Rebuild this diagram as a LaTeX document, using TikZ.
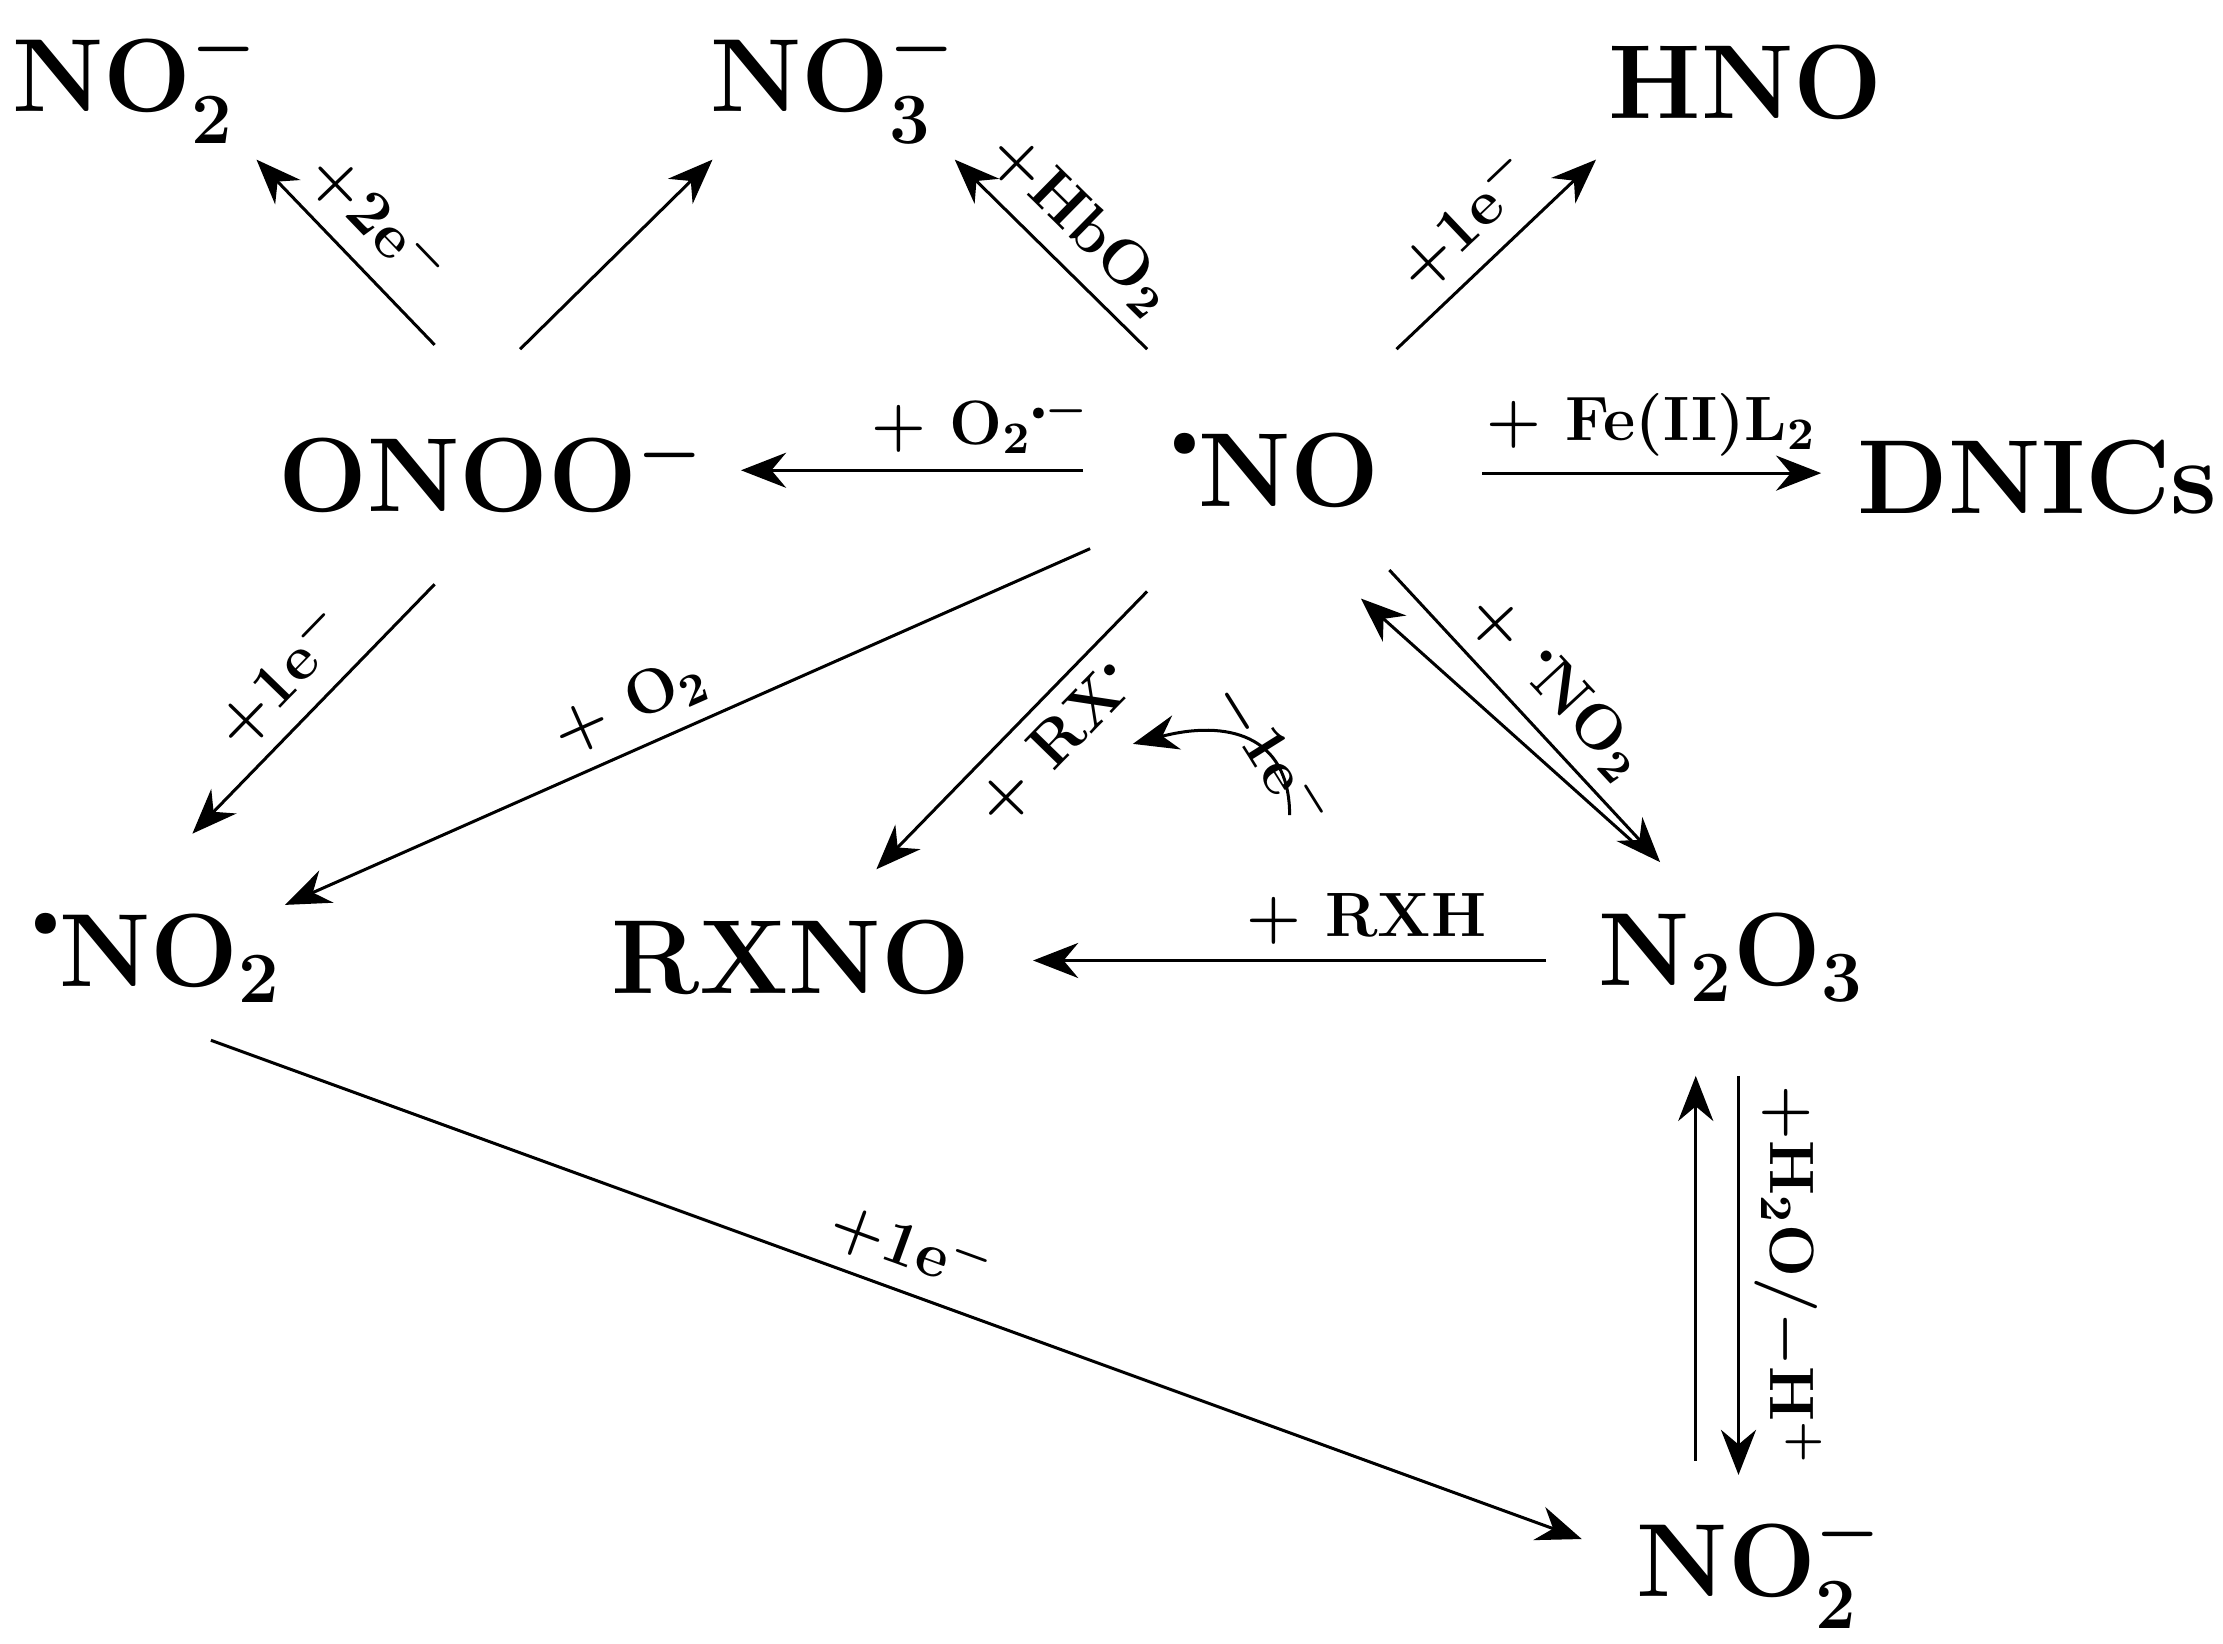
\documentclass[tikz,border=0pt]{standalone}
\usepackage{amsmath}
\usetikzlibrary{arrows.meta}
\newcommand{\rdot}{\raisebox{1.1ex}{\scalebox{0.45}{$\bullet$}}}
\newcommand{\ldot}{\raisebox{0.9ex}{\scalebox{0.4}{$\bullet$}}}

\begin{document}
\begin{tikzpicture}[x=0.01cm,y=-0.01cm,
	sp/.style={font=\fontsize{21}{24}\selectfont\bfseries\boldmath, inner sep=2pt},
	lab/.style={font=\fontsize{12.5}{14}\selectfont\bfseries\boldmath, sloped, inner sep=3pt},
	rx/.style={-{Stealth[length=9pt,width=7pt]}, semithick},
	xr/.style={{Stealth[length=9pt,width=7pt]}-, semithick}]
	\useasboundingbox (0,0) rectangle (1560,1153);
	% species
	\node[sp] (NOa) at (95,58) {$\mathrm{NO}_2^-$};
	\node[sp] (NOb) at (585,58) {$\mathrm{NO}_3^-$};
	\node[sp] (HNO) at (1225,58) {HNO};
	\node[sp] (ONOO) at (345,330) {ONOO$^{-}$};
	\node[sp] (NO) at (895,330) {\rdot NO};
	\node[sp] (DNIC) at (1430,335) {DNICs};
	\node[sp] (NOr) at (110,672) {\rdot$\mathrm{NO}_2$};
	\node[sp] (RXNO) at (555,672) {RXNO};
	\node[sp] (NNO) at (1215,672) {$\mathrm{N}_2\mathrm{O}_3$};
	\node[sp] (NOc) at (1235,1100) {$\mathrm{NO}_2^-$};
	% arrow ends
	\coordinate (ONOOnw) at (305,242);
	\coordinate (ONOOne) at (365,245);
	\coordinate (ONOOs) at (305,410);
	\coordinate (NOaS) at (180,112);
	\coordinate (NObSW) at (500,112);
	\coordinate (NObSE) at (670,112);
	\coordinate (HNOs) at (1120,112);
	\coordinate (NOnw) at (805,245);
	\coordinate (NOne) at (980,245);
	\coordinate (NOw) at (760,330);
	\coordinate (NOe) at (1040,332);
	\coordinate (NOsw) at (765,385);
	\coordinate (NOs) at (805,415);
	\coordinate (NOse) at (975,400);
	\coordinate (NOse2) at (955,420);
	\coordinate (ONOOe) at (520,330);
	\coordinate (DNICw) at (1278,332);
	\coordinate (NOrN) at (135,585);
	\coordinate (NOrNE) at (200,635);
	\coordinate (NOrSE) at (148,730);
	\coordinate (RXNOn) at (615,610);
	\coordinate (RXNOe) at (725,674);
	\coordinate (NNOn) at (1165,605);
	\coordinate (NNOnw) at (1145,590);
	\coordinate (NNOw) at (1085,674);
	\coordinate (NNOs1) at (1190,755);
	\coordinate (NNOs2) at (1220,755);
	\coordinate (NOcN1) at (1190,1025);
	\coordinate (NOcN2) at (1220,1035);
	\coordinate (NOcW) at (1110,1080);
	% reactions
	\draw[xr] (NOaS) -- node[lab,above] {+2e$^-$} (ONOOnw);
	\draw[rx] (ONOOne) -- (NObSW);
	\draw[xr] (NObSE) -- node[lab,above] {+HbO$_2$} (NOnw);
	\draw[rx] (NOne) -- node[lab,above] {+1e$^-$} (HNOs);
	\draw[rx] (NOw) -- node[lab,above,pos=0.3] {+ O$_2$\ldot$^-$} (ONOOe);
	\draw[rx] (NOe) -- node[lab,above] {+ Fe(II)L$_2$} (DNICw);
	\draw[xr] (NOrN) -- node[lab,above] {+1e$^-$} (ONOOs);
	\draw[xr] (NOrNE) -- node[lab,above,pos=0.45] {+ O$_2$} (NOsw);
	\draw[xr] (RXNOn) -- node[lab,below,pos=0.55] {+ RX\ldot} (NOs);
	\draw[rx] (NOse) -- node[lab,above] {+ \ldot NO$_2$} (NNOn);
	\draw[rx] (NNOnw) -- (NOse2);
	\draw[rx] (NNOw) -- node[lab,above,pos=0.35] {+ RXH} (RXNOe);
	\coordinate (c1) at (905,572);
	\coordinate (c2) at (795,522);
	\draw[-{Stealth[length=9pt,width=7pt]}, semithick] (c1) .. controls (905,515) and (860,505) .. (c2);
	\node[lab,rotate=-58] (ml) at (893,530) {$-$1e$^-$};
	\draw[rx] (NOrSE) -- node[lab,above] {+1e$^-$} (NOcW);
	\draw[rx] (NOcN1) -- (NNOs1);
	\draw[rx] (NNOs2) -- node[lab,above,allow upside down] {+H$_2$O/$-$H$^+$} (NOcN2);
\end{tikzpicture}
\end{document}
